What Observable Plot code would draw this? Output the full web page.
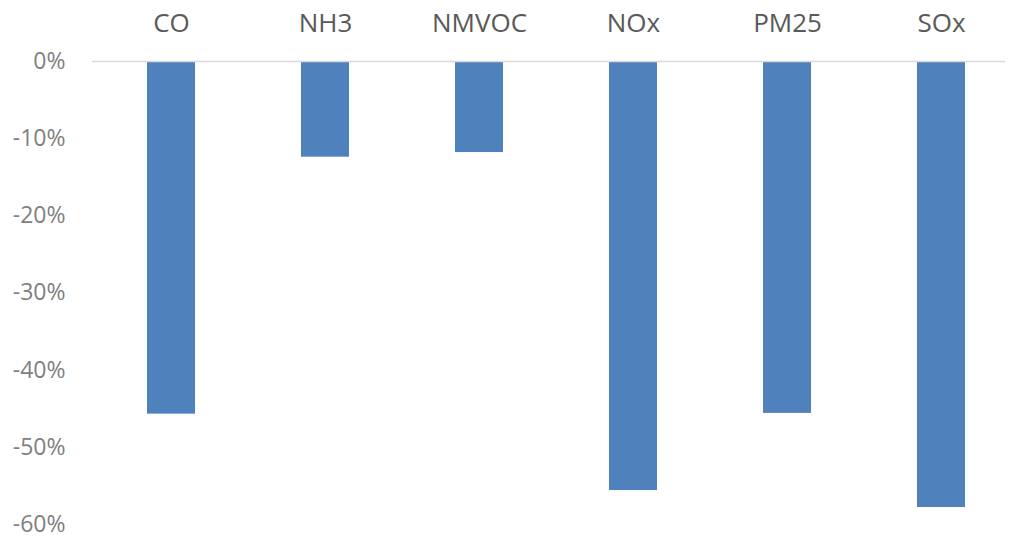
<!DOCTYPE html>
<html>
<head>
<meta charset="utf-8">
<script src="https://cdn.jsdelivr.net/npm/d3@7"></script>
<script src="https://cdn.jsdelivr.net/npm/@observablehq/plot@0.6"></script>
<style>
  html, body { margin: 0; padding: 0; background: #fff; }
  #chart svg { display: block; }
</style>
</head>
<body>
<div id="chart"></div>
<script>
const pollutants = ["CO", "NH3", "NMVOC", "NOx", "PM25", "SOx"];
const changes = [-0.457, -0.124, -0.118, -0.556, -0.456, -0.578];
const yTicks = [0, -0.1, -0.2, -0.3, -0.4, -0.5, -0.6];

const data = pollutants.map((p, i) => ({pollutant: p, change: changes[i]}));

const chart = Plot.plot({
  width: 1011,
  height: 538,
  marginLeft: 92,
  marginRight: -9,
  marginTop: 61,
  marginBottom: 14,
  style: {fontFamily: "'Open Sans', sans-serif", background: "#fff", overflow: "visible"},
  x: {domain: pollutants, paddingInner: 0.69, paddingOuter: 0.345, axis: null},
  y: {domain: [-0.6, 0], axis: null},
  marks: [
    Plot.axisX({anchor: "top", tickSize: 0, tickPadding: 30, fontSize: 26, color: "#595959", label: null}),
    Plot.axisY({ticks: yTicks, tickSize: 0, tickPadding: 27, fontSize: 23, color: "#808080", label: null,
      tickFormat: d => Math.round(d * 100) + "%"}),
    Plot.barY(data, {x: "pollutant", y: "change", fill: "#4f81bd"}),
    Plot.ruleY([0], {stroke: "#d9d9d9", strokeWidth: 1.5, insetRight: 15})
  ]
});
document.getElementById("chart").appendChild(chart);
</script>
</body>
</html>
